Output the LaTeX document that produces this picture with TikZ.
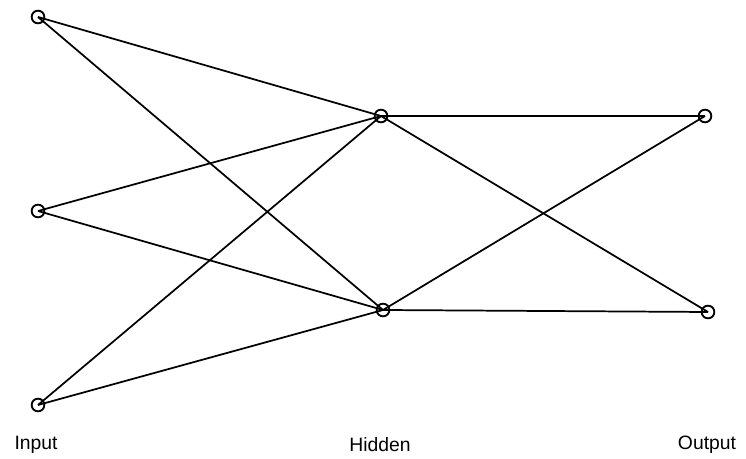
\documentclass[tikz,border=0pt]{standalone}
\usepackage{fontspec}
\setmainfont{Liberation Sans}
\usepackage{tikz}

\begin{document}
\begin{tikzpicture}[x=0.75pt,y=-0.75pt,
  unit/.style={circle,draw,line width=1.4pt,inner sep=0pt,minimum size=9.5pt},
  link/.style={line width=1.3pt},
  lab/.style={font=\fontsize{14.5}{16}\selectfont}]
\useasboundingbox (0,0) rectangle (746,459);

\node[unit] (in1) at (38,17) {};
\node[unit] (in2) at (38,211) {};
\node[unit] (in3) at (38,405) {};

\node[unit] (hid1) at (381,116) {};
\node[unit] (hid2) at (383,310) {};

\node[unit] (out1) at (705,116) {};
\node[unit] (out2) at (708,312) {};

\foreach \i in {in1,in2,in3}
  \foreach \h in {hid1,hid2}
    \draw[link] (\i.center) -- (\h.center);

\foreach \h in {hid1,hid2}
  \foreach \o in {out1,out2}
    \draw[link] (\h.center) -- (\o.center);

\node[lab] (inlab) at (36,445) {Input};
\node[lab] (hidlab) at (380,445) {Hidden};
\node[lab] (outlab) at (707,445) {Output};
\end{tikzpicture}
\end{document}
